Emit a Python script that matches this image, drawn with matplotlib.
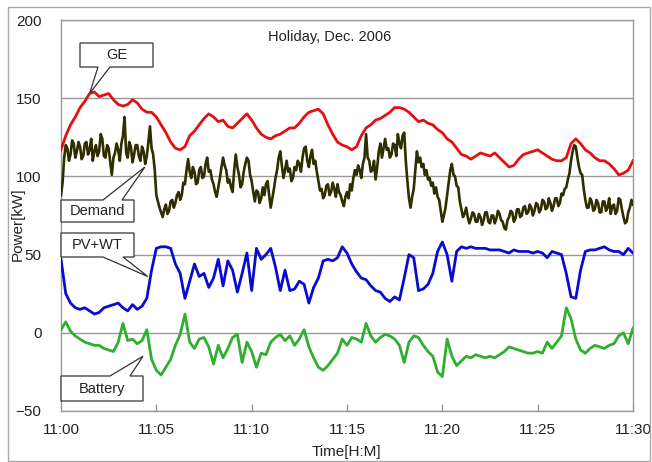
import numpy as np
import matplotlib
matplotlib.use("Agg")
import matplotlib.pyplot as plt
from matplotlib.patches import Polygon, Rectangle

plt.rcParams['font.family'] = ['Liberation Sans', 'DejaVu Sans']

# ---------------- data ----------------
title = "Holiday, Dec. 2006"
x_label = "Time[H:M]"
y_label = "Power[kW]"
x_tick_minutes = [0, 5, 10, 15, 20, 25, 30]
x_tick_labels = ["11:00", "11:05", "11:10", "11:15", "11:20", "11:25", "11:30"]
y_ticks = [-50, 0, 50, 100, 150, 200]

# GE, PV+WT and Battery sampled every 15 s (minutes after 11:00)
ge = [117, 126, 133, 138, 144, 148, 153, 154, 151, 152, 153, 149, 146, 145, 146, 149,
      147, 143, 141, 141, 138, 133, 128, 122, 118, 117, 119, 126, 129, 133, 137, 140,
      138, 135, 136, 132, 131, 134, 137, 140, 136, 131, 127, 125, 124, 126, 127, 129,
      131, 131, 134, 138, 141, 142, 143, 140, 133, 127, 122, 120, 119, 117, 119, 126,
      131, 133, 136, 137, 139, 141, 144, 144, 143, 141, 138, 135, 136, 134, 133, 130,
      128, 124, 122, 118, 114, 113, 111, 113, 115, 114, 113, 115, 112, 109, 106, 107,
      111, 114, 115, 116, 117, 115, 113, 111, 110, 110, 112, 121, 124, 121, 117, 115,
      112, 110, 110, 108, 105, 101, 102, 104, 110]

pv_wt = [47, 25, 19, 16, 15, 16, 14, 12, 13, 16, 17, 18, 19, 16, 14, 18,
         15, 17, 22, 40, 54, 55, 55, 54, 44, 38, 22, 33, 44, 36, 38, 29,
         35, 47, 30, 46, 40, 26, 38, 51, 27, 54, 47, 50, 54, 42, 27, 40,
         27, 28, 33, 31, 19, 29, 35, 46, 47, 46, 48, 55, 51, 44, 39, 35,
         34, 30, 27, 26, 22, 20, 23, 21, 35, 50, 48, 27, 28, 31, 38, 52,
         58, 50, 33, 52, 55, 54, 55, 54, 54, 54, 53, 53, 53, 52, 51, 53,
         52, 52, 52, 51, 52, 51, 48, 52, 51, 50, 38, 23, 22, 40, 52, 53,
         53, 54, 55, 53, 52, 52, 50, 54, 51]

battery = [2, 7, 1, -2, -4, -6, -7, -8, -8, -10, -11, -12, -6, 6, -5, -4,
           -7, -5, 2, -17, -24, -27, -22, -17, -8, -1, 12, -6, -10, -4, -3, -9,
           -20, -8, -16, -10, -3, -1, -19, -6, -12, -22, -13, -14, -6, -3, -1, -5,
           -2, -8, -4, 2, -9, -16, -22, -24, -21, -17, -13, -4, -8, -3, -4, -6,
           6, -2, -6, -3, -1, -2, -4, -8, -19, -6, -2, -3, -8, -12, -15, -25,
           -28, -4, -15, -21, -18, -15, -16, -14, -15, -16, -15, -16, -14, -12, -9, -10,
           -11, -12, -13, -13, -12, -13, -6, -10, -6, -2, 16, 9, -4, -11, -13, -10,
           -8, -9, -10, -8, -7, -2, 0, -7, 3]

# Demand sampled every 5 s (12 values per minute)
demand = [88, 96, 112, 120, 118, 110, 114, 123, 121, 112, 116, 122,
          119, 111, 113, 121, 122, 114, 117, 124, 110, 116, 120, 113,
          116, 127, 124, 113, 112, 120, 118, 109, 101, 112, 115, 121,
          117, 110, 121, 126, 138, 115, 112, 122, 119, 109, 114, 120,
          120, 113, 110, 119, 116, 108, 113, 122, 132, 118, 114, 104,
          88, 84, 80, 77, 74, 79, 82, 76, 78, 84, 85, 80,
          83, 88, 90, 85, 88, 96, 95, 104, 111, 103, 99, 106,
          103, 95, 96, 104, 106, 99, 100, 108, 112, 103, 104, 98,
          95, 90, 87, 93, 99, 106, 112, 107, 104, 96, 98, 93,
          90, 104, 114, 106, 101, 93, 95, 103, 108, 112, 110, 101,
          97, 90, 84, 91, 90, 83, 86, 93, 88, 95, 97, 88,
          80, 86, 92, 99, 104, 112, 116, 107, 99, 104, 110, 103,
          105, 97, 99, 106, 104, 110, 108, 103, 112, 118, 119, 110,
          106, 113, 117, 108, 110, 103, 97, 91, 92, 86, 88, 94,
          95, 88, 90, 96, 92, 87, 95, 90, 88, 84, 81, 87,
          90, 86, 95, 91, 99, 104, 101, 107, 104, 99, 108, 112,
          127, 112, 110, 103, 104, 110, 98, 106, 116, 121, 112, 118,
          124, 117, 118, 112, 114, 121, 120, 113, 127, 121, 118, 126,
          128, 110, 97, 86, 80, 87, 92, 104, 116, 109, 112, 106,
          108, 101, 104, 98, 99, 94, 96, 89, 93, 87, 85, 78,
          71, 75, 80, 88, 96, 104, 108, 101, 100, 94, 93, 84,
          79, 74, 76, 80, 74, 70, 73, 77, 76, 71, 71, 76,
          74, 69, 72, 77, 77, 71, 70, 75, 75, 70, 73, 78,
          76, 72, 71, 67, 66, 72, 74, 78, 77, 71, 73, 79,
          79, 74, 75, 80, 81, 76, 77, 82, 80, 75, 78, 83,
          82, 77, 79, 85, 84, 79, 80, 86, 83, 78, 81, 86,
          86, 81, 83, 89, 88, 92, 93, 98, 102, 110, 116, 120,
          119, 112, 106, 102, 101, 92, 85, 80, 80, 86, 84, 78,
          79, 85, 83, 77, 77, 84, 84, 78, 80, 86, 76, 81,
          82, 76, 78, 86, 85, 79, 74, 70, 71, 77, 80, 85,
          82]

t15 = np.arange(len(ge)) * 0.25
t5 = np.arange(len(demand)) / 12.0

# callout labels and the (minute, kW) point each one points at
callouts = [
    ("GE", (1.5, 153)),
    ("Demand", (4.4, 106)),
    ("PV+WT", (4.55, 36)),
    ("Battery", (4.3, -15)),
]

# ---------------- figure ----------------
W, H = 652, 462
fig = plt.figure(figsize=(W / 100, H / 100), dpi=100)
ax = fig.add_axes([61 / W, 1 - 411 / H, (633 - 61) / W, (411 - 20) / H])

ax.plot(t15, ge, color='#e41010', lw=2.0, zorder=3)
ax.plot(t15, pv_wt, color='#0a0ad0', lw=2.0, zorder=3)
ax.plot(t15, battery, color='#2fae2f', lw=2.0, zorder=3)
ax.plot(t5, demand, color='#2e2e00', lw=1.9, zorder=4)

ax.set_xlim(0, 30)
ax.set_ylim(-50, 200)
ax.set_xticks(x_tick_minutes)
ax.set_xticklabels(x_tick_labels)
ax.set_yticks(y_ticks)
ax.tick_params(axis='x', direction='in', length=5, color='#888888', labelsize=11, pad=9, labelcolor='#222222')
ax.tick_params(axis='y', length=0, labelsize=11, pad=14, labelcolor='#222222')
ax.grid(axis='y', color='#999999', lw=1.0)
ax.set_axisbelow(True)
for s in ax.spines.values():
    s.set_color('#999999')
    s.set_linewidth(1.0)

ax.text(0.47, 0.975, title, transform=ax.transAxes, ha='center', va='top', fontsize=10.5, color='#222222')
fig.text(346 / W, 1 - 452 / H, x_label, ha='center', va='center', fontsize=11, color='#222222')
fig.text(18 / W, 1 - 224 / H, y_label, ha='center', va='center', rotation=90, fontsize=11, color='#222222')

# outer frame
fig.patches.append(Rectangle((8 / W, 1 - 461 / H), (650 - 8) / W, (461 - 7) / H,
                             transform=fig.transFigure, fill=False, ec='#aaaaaa', lw=1.0))

# callout boxes (layout in pixels from the top-left corner)
boxes = {
    "GE": ((80, 43, 153, 67), 'bottom', (98, 110)),
    "Demand": ((61, 200, 134, 222), 'top', (103, 122)),
    "PV+WT": ((61, 233, 134, 257), 'bottom', (103, 123)),
    "Battery": ((61, 376, 143, 401), 'top', (110, 130)),
}

fig.canvas.draw()
inv = fig.transFigure.inverted()


def fpx(x, y):
    return (x / W, 1 - y / H)


for label, pt in callouts:
    (x0, y0, x1, y1), side, (b0, b1) = boxes[label]
    tx, ty = ax.transData.transform(pt)
    tip = inv.transform((tx, ty))
    if side == 'bottom':
        verts = [fpx(x0, y0), fpx(x1, y0), fpx(x1, y1), fpx(b1, y1), tuple(tip),
                 fpx(b0, y1), fpx(x0, y1)]
    else:
        verts = [fpx(x0, y0), fpx(b0, y0), tuple(tip), fpx(b1, y0), fpx(x1, y0),
                 fpx(x1, y1), fpx(x0, y1)]
    poly = Polygon(verts, closed=True, transform=fig.transFigure, fc='white',
                   ec='#333333', lw=0.9, zorder=10)
    fig.patches.append(poly)
    cx, cy = fpx((x0 + x1) / 2, (y0 + y1) / 2)
    fig.text(cx, cy, label, ha='center', va='center', fontsize=10.5, color='#222222', zorder=11)

fig.savefig("out.png", dpi=100)
